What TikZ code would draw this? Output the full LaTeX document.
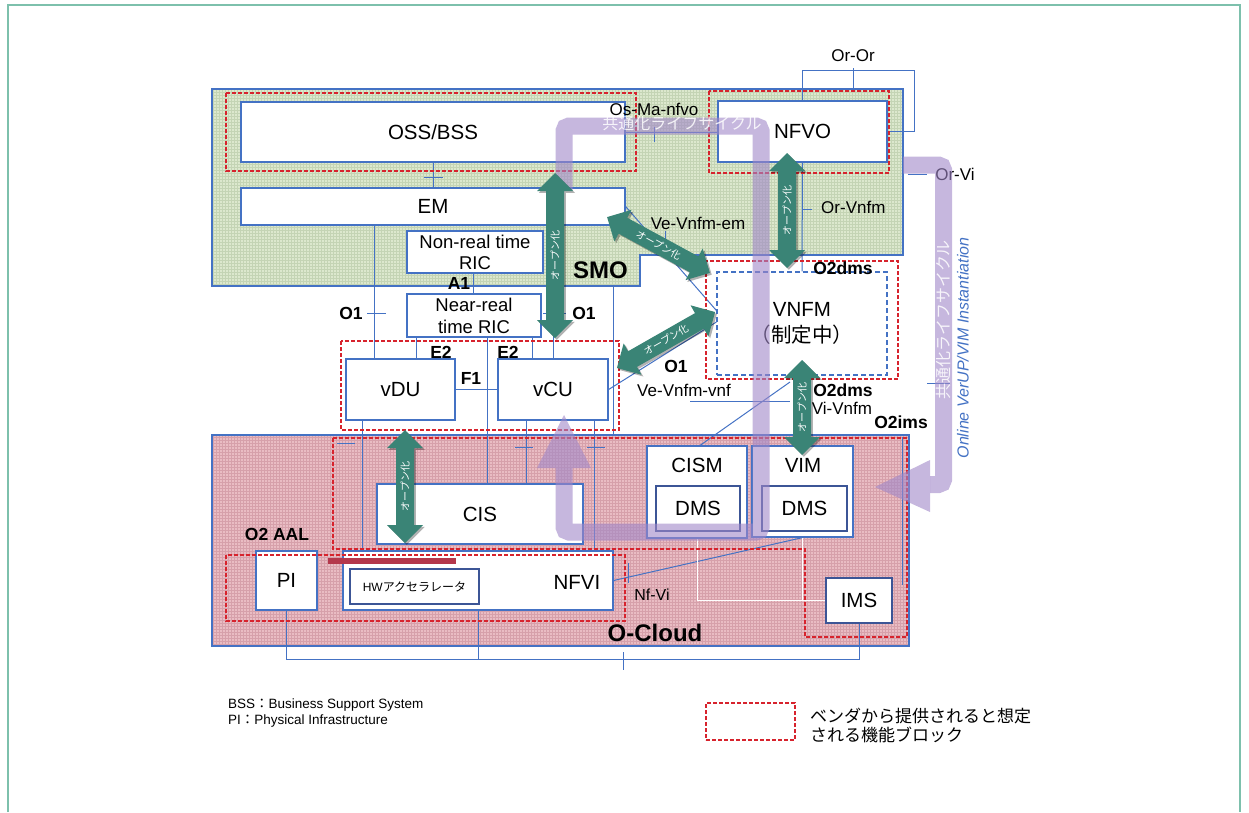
\documentclass[tikz,border=0pt]{standalone}
\usepackage{fontspec}
\setmainfont{Liberation Sans}
\newfontfamily\cjk{Noto Sans CJK JP}
\usetikzlibrary{calc,patterns}
\definecolor{bl}{RGB}{68,114,196}
\definecolor{dbl}{RGB}{60,85,150}
\definecolor{rd}{RGB}{215,35,45}
\definecolor{smog}{RGB}{220,232,205}
\definecolor{smogd}{RGB}{196,212,180}
\definecolor{ocp}{RGB}{233,188,195}
\definecolor{ocpd}{RGB}{214,160,170}
\definecolor{teal2}{RGB}{58,132,118}
\definecolor{purp}{RGB}{160,135,200}
\definecolor{framec}{RGB}{125,192,172}
\definecolor{barc}{RGB}{180,55,75}
\pgfdeclarelayer{bg}\pgfdeclarelayer{lines}\pgfdeclarelayer{fg}\pgfdeclarelayer{top}
\pgfsetlayers{bg,lines,main,fg,top}
\tikzset{
 box/.style={draw=bl, fill=white, line width=1.2pt, inner sep=0pt, font=\fontsize{20.5}{22}\selectfont, align=center},
 vend/.style={draw=rd, line width=1.1pt, dash pattern=on 4pt off 2pt},
 conn/.style={draw=bl, line width=1pt},
 lbl/.style={font=\fontsize{17}{19}\selectfont, inner sep=0pt},
 blbl/.style={font=\bfseries\fontsize{17.5}{19}\selectfont, inner sep=0pt},
 purband/.style={draw=purp, line width=17pt, opacity=0.6, rounded corners=5pt},
 purhead/.style={fill=purp, opacity=0.6},
 opentxt/.style={text=white, font=\cjk\fontsize{10}{10}\selectfont, inner sep=0pt},
}
\newcommand{\openarr}[4]{%
 \begin{scope}[shift={#2}, xshift=1.8pt, yshift=-1.8pt, rotate=#3]
  \fill[black, opacity=.3] ({-#4/2},0) -- ({-#4/2+18},18) -- ({-#4/2+18},9) -- ({#4/2-18},9) -- ({#4/2-18},18) -- ({#4/2},0) -- ({#4/2-18},-18) -- ({#4/2-18},-9) -- ({-#4/2+18},-9) -- ({-#4/2+18},-18) -- cycle;
 \end{scope}
 \begin{scope}[shift={#2}, rotate=#3]
  \fill[teal2] ({-#4/2},0) -- ({-#4/2+18},18) -- ({-#4/2+18},9) -- ({#4/2-18},9) -- ({#4/2-18},18) -- ({#4/2},0) -- ({#4/2-18},-18) -- ({#4/2-18},-9) -- ({-#4/2+18},-9) -- ({-#4/2+18},-18) -- cycle;
 \end{scope}
 \node[opentxt, rotate=#3] (#1) at #2 {オープン化};
}
\begin{document}
\begin{tikzpicture}[x=1pt,y=-1pt]
\useasboundingbox (0,0) rectangle (1249,812);
\draw[framec, line width=1.5pt] (8,812) -- (8,5) -- (1240,5) -- (1240,812);

% regions
\begin{pgfonlayer}{bg}
\fill[smog] (212,89) -- (903,89) -- (903,255) -- (640,255) -- (640,286) -- (212,286) -- cycle;
\fill[pattern=grid, pattern color=smogd] (212,89) -- (903,89) -- (903,255) -- (640,255) -- (640,286) -- (212,286) -- cycle;
\draw[bl, line width=1.2pt] (212,89) -- (903,89) -- (903,255) -- (640,255) -- (640,286) -- (212,286) -- cycle;
\fill[ocp] (212,435) rectangle (909,646);
\fill[pattern=grid, pattern color=ocpd] (212,435) rectangle (909,646);
\draw[bl, line width=1.2pt] (212,435) rectangle (909,646);
\end{pgfonlayer}
\coordinate (smob) at (613,286);
\coordinate (octop) at (613,435);
\coordinate (c1) at (790,382);
\coordinate (c2) at (690,401);
\coordinate (c3) at (790,401);
\coordinate (c4) at (902,437);
\coordinate (c5) at (902,585);

% boxes
\node[box, minimum width=384, minimum height=60] (oss) at (433,132) {OSS/BSS};
\node[box, minimum width=384, minimum height=37] (em) at (433,206.5) {EM};
\node[box, font=\fontsize{18.5}{21}\selectfont, minimum width=136, minimum height=42] (nrt) at (475,252) {Non-real time\\RIC};
\node[box, font=\fontsize{18.5}{22}\selectfont, minimum width=134, minimum height=43] (nearrt) at (474,315.5) {Near-real\\time RIC};
\node[box, minimum width=109, minimum height=61] (vdu) at (400.5,389.5) {vDU};
\node[box, minimum width=110, minimum height=61] (vcu) at (553,389.5) {vCU};
\node[box, minimum width=169, minimum height=61] (nfvo) at (802.5,131.5) {NFVO};
\node[box, dash pattern=on 5pt off 3pt, font=\fontsize{20.5}{26}\selectfont, minimum width=170, minimum height=103] (vnfm) at (802,323.5) {VNFM\\{\cjk （制定中）}};
\node[box, minimum width=206, minimum height=60] (cis) at (480,514) {CIS};
\node[box, minimum width=61, minimum height=59] (pi) at (286.5,580.5) {PI};
\node[box, minimum width=270, minimum height=59] (nfvi) at (478,580.5) {};
\node[box, draw=dbl, minimum width=129, minimum height=35, font=\fontsize{12}{12}\selectfont] (hw) at (414.5,586.5) {HW{\cjk アクセラレータ}};
\node[box, minimum width=100, minimum height=92] (cism) at (697,492) {};
\node[box, draw=dbl, minimum width=84, minimum height=45] (cdms) at (698,508.5) {DMS};
\node[box, minimum width=101, minimum height=91] (vim) at (802.5,491.5) {};
\node[box, draw=dbl, minimum width=85, minimum height=45] (vdms) at (804.5,508.5) {DMS};
\node[box, draw=dbl, minimum width=66, minimum height=45] (ims) at (859,600.5) {IMS};
\node[font=\fontsize{20.5}{22}\selectfont, inner sep=0pt] (tcism) at (697,465) {CISM};
\node[font=\fontsize{20.5}{22}\selectfont, inner sep=0pt] (tvim) at (803,465) {VIM};
\node[font=\fontsize{20.5}{22}\selectfont, inner sep=0pt] (tnfvi) at (577,582) {NFVI};
\fill[barc] (328,558) rectangle (456,564);

% vendor dashed blocks
\draw[vend] (226,93) rectangle (636,171);
\draw[vend] (709,91) rectangle (889,173);
\draw[vend] (706,261) rectangle (898,379);
\draw[vend] (341,341) rectangle (619,430);
\draw[vend] (333,438) -- (907,438) -- (907,637) -- (805,637) -- (805,549) -- (333,549) -- cycle;
\draw[vend] (226,555) rectangle (625,621);

% connectors
\begin{pgfonlayer}{lines}
\draw[conn] (oss.south) -- (em.north);
\draw[conn] (424,177) -- (443,177);
\draw[conn] (em.south -| 374,0) -- (vdu.north -| 374,0);
\draw[conn] (367,313) -- (386,313);
\draw[conn] (nrt.south -| 473,0) -- (nearrt.north -| 473,0);
\draw[conn] (nearrt.south -| 416,0) -- (vdu.north -| 416,0);
\draw[conn] (nearrt.south -| 532,0) -- (vcu.north -| 532,0);
\draw[conn] (em.south -| 553,0) -- (vcu.north -| 553,0);
\draw[conn] (543,313) -- (566,313);
\draw[conn] (vdu.east) -- (vcu.west);
\draw[conn] (nearrt.south -| 487,0) -- (cis.north -| 487,0);
\draw[conn] (vdu.south -| 362,0) -- (nfvi.north -| 362,0);
\draw[conn] (vcu.south -| 526,0) -- (cis.north -| 526,0);
\draw[conn] (515,447) -- (533,447);
\draw[conn] (vcu.south -| 594,0) -- (nfvi.north -| 594,0);
\draw[conn] (587,447) -- (605,447);
\draw[conn] (337,443) -- (355,443);
\draw[conn] (smob) -- (octop);
\draw[conn] (oss.east) -- (oss.east -| nfvo.west);
\draw[conn] (654,127) -- (654,142);
\draw[conn] (nfvo.north) |- (914,70) -- (914,131.5) -- (nfvo.east);
\draw[conn] (853,68) -- (853,90);
\draw[conn] (nfvo.south) -- (vnfm.north);
\draw[conn] (802,209) -- (812,209);
\draw[conn] (em.east) -- ([yshift=13pt]vnfm.west);
\draw[conn] (665,231) -- (665,239);
\draw[conn] (vcu.east) -- ([yshift=1.5pt]vnfm.west);
\draw[conn] ([xshift=3pt]cism.north) -- (c1);
\draw[conn] (c2) -- (c3);
\draw[conn] (vnfm.south) -- (vim.north);
\draw[conn] (nfvi.east) -- (vim.south);
\draw[conn] (628,563) -- (628,583);
\draw[white, line width=1pt] (cism.south) |- (ims.west);
\draw[white, line width=1pt] (vim.south) -- (vim.south |- ims.west);
\draw[conn] (pi.south) -- (pi.south |- 0,659) -- (ims.south |- 0,659) -- (ims.south);
\draw[conn] (nfvi.south) -- (nfvi.south |- 0,659);
\draw[conn] (623,652) -- (623,670);
\draw[conn] (c4) -- (c5);
\draw[conn] (908,174) -- (927,174);
\draw[conn] (927,383) -- (950,383);
\end{pgfonlayer}

% lifecycle arrows
\begin{pgfonlayer}{fg}
\draw[purband] (564,190) -- (564,126) -- (761,126) -- (761,532) -- (564,532) -- (564,468);
\fill[purhead] (537,468) -- (591,468) -- (564,415) -- cycle;
\draw[purband] (903,165) -- (943.5,165) -- (943.5,484.5) -- (930,484.5);
\fill[purhead] (930,460) -- (930,512) -- (875,487) -- cycle;
\node[text=white, opacity=.85, font=\cjk\fontsize{16}{16}\selectfont, inner sep=0pt] (lc1) at (682,123) {共通化ライフサイクル};
\node[text=white, opacity=.85, font=\cjk\fontsize{16}{16}\selectfont, inner sep=0pt, rotate=90] (lc2) at (943.5,320) {共通化ライフサイクル};
\end{pgfonlayer}
\node[text=bl, font=\itshape\fontsize{16}{16}\selectfont, inner sep=0pt, rotate=90] (online) at (963,348) {Online VerUP/VIM Instantiation};

% open arrows
\begin{pgfonlayer}{top}
\openarr{oa1}{(555,255.5)}{90}{165}
\openarr{oa2}{(787,210.5)}{90}{115}
\openarr{oa3}{(658.5,245)}{-28.5}{117}
\openarr{oa4}{(666,340)}{29.7}{113}
\openarr{oa5}{(802,407.5)}{90}{95}
\openarr{oa6}{(405,486.5)}{90}{113}
\end{pgfonlayer}

% labels
\node[lbl] (tosma) at (654,109) {Os-Ma-nfvo};
\node[lbl] (toror) at (853,56) {Or-Or};
\node[lbl, anchor=west] (torvnfm) at (821,207) {Or-Vnfm};
\node[lbl] (tvevem) at (698,223) {Ve-Vnfm-em};
\node[lbl] (torvi) at (955,174) {Or-Vi};
\node[blbl] (to2dms1) at (843,268) {O2dms};
\node[blbl] (to1c) at (676,366) {O1};
\node[lbl] (tvevnf) at (684,390) {Ve-Vnfm-vnf};
\node[blbl] (to2dms2) at (843,390) {O2dms};
\node[lbl] (tvivnfm) at (842,408) {Vi-Vnfm};
\node[blbl] (to2ims) at (901,422) {O2ims};
\node[blbl] (to1a) at (351,313) {O1};
\node[blbl] (to1b) at (584,313) {O1};
\node[blbl] (ta1) at (459,283) {A1};
\node[blbl] (te2a) at (441,352) {E2};
\node[blbl] (te2b) at (508,352) {E2};
\node[blbl] (tf1) at (471,378) {F1};
\node[font=\bfseries\fontsize{24}{26}\selectfont, inner sep=0pt] (tsmo) at (600.5,270) {SMO};
\node[blbl] (to2aal) at (277,534) {O2 AAL};
\node[lbl, font=\fontsize{16}{18}\selectfont] (tnfvi2) at (652,595) {Nf-Vi};
\node[font=\bfseries\fontsize{24}{26}\selectfont, inner sep=0pt] (tocloud) at (655,633) {O-Cloud};

% legend
\node[font=\fontsize{13.5}{14}\selectfont, anchor=west, inner sep=0pt] (lg1) at (228,705) {BSS{\cjk ：}Business Support System};
\node[font=\fontsize{13.5}{14}\selectfont, anchor=west, inner sep=0pt] (lg2) at (228,721) {PI{\cjk ：}Physical Infrastructure};
\node[vend, minimum width=89, minimum height=37, inner sep=0pt] (lgbox) at (750.5,721.5) {};
\node[font=\cjk\fontsize{17}{19}\selectfont, anchor=west, align=left, inner sep=0pt] (lg3) at (810,725) {ベンダから提供されると想定\\される機能ブロック};
\end{tikzpicture}
\end{document}
